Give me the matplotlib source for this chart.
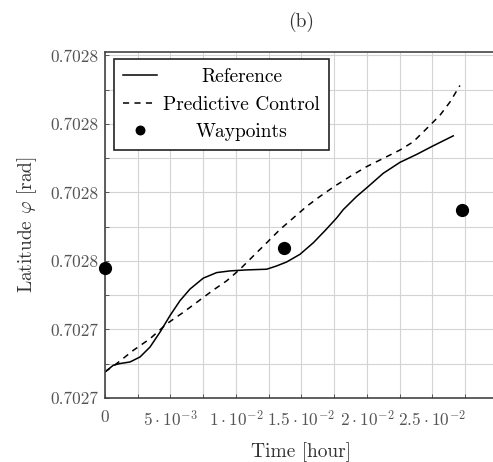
import matplotlib
matplotlib.use("Agg")
import matplotlib.pyplot as plt
from matplotlib.ticker import MultipleLocator

plt.rcParams['font.family'] = ['cmr10', 'DejaVu Serif']
plt.rcParams['mathtext.fontset'] = 'cm'
plt.rcParams['axes.formatter.use_mathtext'] = True

# ---- data ----
ref_time = [0.0, 0.000634, 0.001145, 0.001908, 0.002672, 0.003435, 0.004198,
            0.004962, 0.005725, 0.006489, 0.007504, 0.008527, 0.009542,
            0.010817, 0.012344, 0.013107, 0.013870, 0.014885, 0.015901,
            0.016794, 0.017687, 0.018191, 0.019214, 0.020099, 0.021244,
            0.022519, 0.023794, 0.025061, 0.026588]
ref_lat = [0.70272762, 0.70272957, 0.70273006, 0.70273052, 0.70273197,
           0.70273487, 0.70273922, 0.70274406, 0.70274841, 0.70275180,
           0.70275499, 0.70275661, 0.70275710, 0.70275739, 0.70275759,
           0.70275855, 0.70275971, 0.70276194, 0.70276530, 0.70276884,
           0.70277255, 0.70277499, 0.70277884, 0.70278174, 0.70278559,
           0.70278878, 0.70279110, 0.70279362, 0.70279652]

mpc_time = [0.0, 0.000893, 0.002160, 0.003435, 0.004710, 0.005977, 0.007000,
            0.008267, 0.009290, 0.010305, 0.011321, 0.012344, 0.013359,
            0.014374, 0.015397, 0.016412, 0.017557, 0.018702, 0.019977,
            0.021244, 0.022519, 0.023534, 0.024557, 0.025573, 0.026336,
            0.027099]
mpc_lat = [0.70272762, 0.70273006, 0.70273391, 0.70273730, 0.70274165,
           0.70274501, 0.70274791, 0.70275151, 0.70275420, 0.70275759,
           0.70276145, 0.70276530, 0.70276919, 0.70277255, 0.70277594,
           0.70277884, 0.70278188, 0.70278464, 0.70278754, 0.70278994,
           0.70279238, 0.70279478, 0.70279864, 0.70280252, 0.70280638,
           0.70281122]

wp_time = [0.0, 0.01369, 0.02723]
wp_lat = [0.70275806, 0.70276386, 0.70277478]

xtick_values = [0.0, 0.005, 0.01, 0.015, 0.02, 0.025]
xtick_labels = [r'$0$', r'$5\cdot10^{-3}$', r'$1\cdot10^{-2}$',
                r'$1.5\cdot10^{-2}$', r'$2\cdot10^{-2}$', r'$2.5\cdot10^{-2}$']
ytick_values = [0.70272, 0.70274, 0.70276, 0.70278, 0.70280, 0.70282]
ytick_labels = ['0.7027', '0.7027', '0.7028', '0.7028', '0.7028', '0.7028']

# ---- figure ----
fig = plt.figure(figsize=(4.93, 4.62), dpi=100)
ax = fig.add_axes([0.213, 0.1385, 0.797, 0.749])

ax.plot(ref_time, ref_lat, color='black', lw=1.1, label='Reference')
ax.plot(mpc_time, mpc_lat, color='black', lw=1.1, dashes=(4, 3.5),
        label='Predictive Control')
ax.plot(wp_time, wp_lat, 'o', color='black', ms=8.5, clip_on=False,
        zorder=5, label='Waypoints')

ax.set_xlim(0, 0.03)
ax.set_ylim(0.70272, 0.702821)
ax.set_xticks(xtick_values, labels=xtick_labels)
ax.set_yticks(ytick_values, labels=ytick_labels)
ax.xaxis.set_minor_locator(MultipleLocator(0.0025))
ax.yaxis.set_minor_locator(MultipleLocator(0.00001))

ax.grid(which='both', color='#d4d4d4', lw=0.8)
ax.set_axisbelow(True)
ax.tick_params(which='both', direction='in', length=3, width=0.7,
               color='#555555', labelcolor='#555555', labelsize=12.5)
ax.tick_params(axis='x', pad=8)
ax.tick_params(axis='y', pad=5)
for s in ax.spines.values():
    s.set_color('#444444')
    s.set_linewidth(1.2)

ax.set_xlabel('Time [hour]', fontsize=14, color='#333333', labelpad=9)
ax.set_ylabel(r'Latitude $\varphi$ [rad]', fontsize=14, color='#333333',
              labelpad=8)
ax.set_title('(b)', fontsize=14, color='#333333', pad=18)

leg = ax.legend(loc='upper left', bbox_to_anchor=(0.0229, 0.979),
                borderaxespad=0, fontsize=14, frameon=True, fancybox=False,
                edgecolor='#222222', framealpha=1, handlelength=1.75,
                handletextpad=0.33, labelspacing=0.5, borderpad=0.45,
                markerscale=0.72)
leg.get_frame().set_linewidth(1.2)

# center legend texts within their column
fig.canvas.draw()
renderer = fig.canvas.get_renderer()
texts = leg.get_texts()
widths = [t.get_window_extent(renderer).width for t in texts]
wmax = max(widths)
for t, w in zip(texts, widths):
    t.set_x((wmax - w) / 2)

fig.savefig('out.png', dpi=100)
